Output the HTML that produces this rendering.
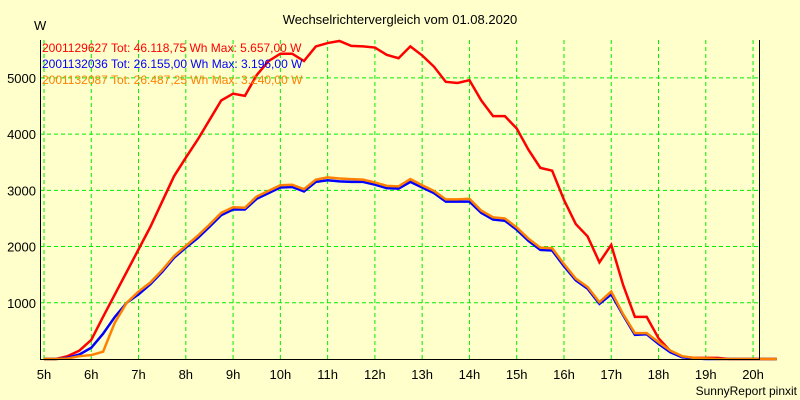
<!DOCTYPE html>
<html><head><meta charset="utf-8"><style>
body{margin:0;background:#ffffcc;}
svg{display:block;font-family:"Liberation Sans",sans-serif;}
</style></head><body>
<svg id="c" width="800" height="400">
<rect width="800" height="400" fill="#ffffcc"/>
<text x="400" y="24" text-anchor="middle" font-size="13">Wechselrichtervergleich vom 01.08.2020</text>
<text x="34" y="30" font-size="13">W</text>
<text x="797" y="395" text-anchor="end" font-size="12">SunnyReport pinxit</text>
<g id="grid"></g><g id="series"></g>
<path d="M40.5 40V359.5H759.5V40" fill="none" stroke="#000"/>
<g id="legend" font-size="12">
<text x="42" y="52" fill="#ff0000">2001129627 Tot: 46.118,75 Wh Max: 5.657,00 W</text>
<text x="42" y="68" fill="#0000ff">2001132036 Tot: 26.155,00 Wh Max: 3.196,00 W</text>
<text x="42" y="84" fill="#ff8000">2001132087 Tot: 26.487,25 Wh Max: 3.240,00 W</text>
</g>
</svg>
<script>
const hours=[5,6,7,8,9,10,11,12,13,14,15,16,17,18,19,20];
const yTicks=[1000,2000,3000,4000,5000];
const red=[0,0,50,150,340,750,1150,1550,1950,2350,2800,3250,3580,3900,4250,4600,4720,4680,5050,5300,5430,5430,5300,5560,5620,5657,5570,5560,5540,5410,5350,5560,5400,5200,4930,4910,4960,4600,4320,4320,4100,3720,3400,3350,2830,2400,2180,1720,2030,1320,750,750,370,140,40,20,20,20,0,0,0,0,0];
const blue=[0,0,20,80,200,450,750,1000,1150,1330,1550,1800,1980,2150,2350,2560,2660,2660,2850,2950,3050,3060,2980,3150,3180,3160,3150,3150,3100,3040,3030,3150,3050,2950,2800,2800,2800,2600,2480,2460,2300,2100,1940,1930,1650,1400,1250,980,1150,780,430,440,270,120,30,10,0,0,0,0,0,0,0];
const orange=[0,0,10,50,70,130,650,1000,1200,1360,1580,1830,2010,2190,2390,2600,2700,2690,2890,2990,3090,3100,3020,3190,3230,3210,3200,3190,3140,3080,3070,3200,3090,2990,2840,2840,2850,2640,2520,2500,2340,2140,1980,1970,1690,1430,1280,1010,1200,800,460,460,300,150,50,20,10,0,0,0,0,0,0];
const X=t=>44+47.27*(t-5), Y=v=>359-v*0.05622;
const ns="http://www.w3.org/2000/svg";
const grid=document.getElementById('grid'), svg=document.getElementById('c'), ser=document.getElementById('series');
hours.forEach(h=>{
 const l=document.createElementNS(ns,'line');
 l.setAttribute('x1',X(h));l.setAttribute('x2',X(h));l.setAttribute('y1',40);l.setAttribute('y2',359);
 l.setAttribute('stroke','#00ee00');l.setAttribute('stroke-dasharray','4,3');
 
 
 grid.appendChild(l);
 const t=document.createElementNS(ns,'text');
 t.setAttribute('x',X(h));t.setAttribute('y',379);t.setAttribute('text-anchor','middle');t.setAttribute('font-size','13');
 t.textContent=h+'h';
 
 
 svg.appendChild(t);
});
yTicks.forEach(v=>{
 const l=document.createElementNS(ns,'line');
 l.setAttribute('x1',40);l.setAttribute('x2',759);l.setAttribute('y1',Y(v));l.setAttribute('y2',Y(v));
 l.setAttribute('stroke','#00ee00');l.setAttribute('stroke-dasharray','4,3');
 
 
 grid.appendChild(l);
 const t=document.createElementNS(ns,'text');
 t.setAttribute('x',36);t.setAttribute('y',Y(v)+5);t.setAttribute('text-anchor','end');t.setAttribute('font-size','13');
 t.textContent=v;
 
 
 svg.appendChild(t);
});
[[red,'#ff0000','series-2001129627'],[blue,'#0000ff','series-2001132036'],[orange,'#ff8000','series-2001132087']].forEach(([d,c,n])=>{
 const p=document.createElementNS(ns,'polyline');
 p.setAttribute('points',d.map((v,i)=>X(5+i*0.25)+','+Y(v)).join(' '));
 p.setAttribute('fill','none');p.setAttribute('stroke',c);p.setAttribute('stroke-width','2.5');
 
 
 ser.appendChild(p);
});
</script>
</body></html>
